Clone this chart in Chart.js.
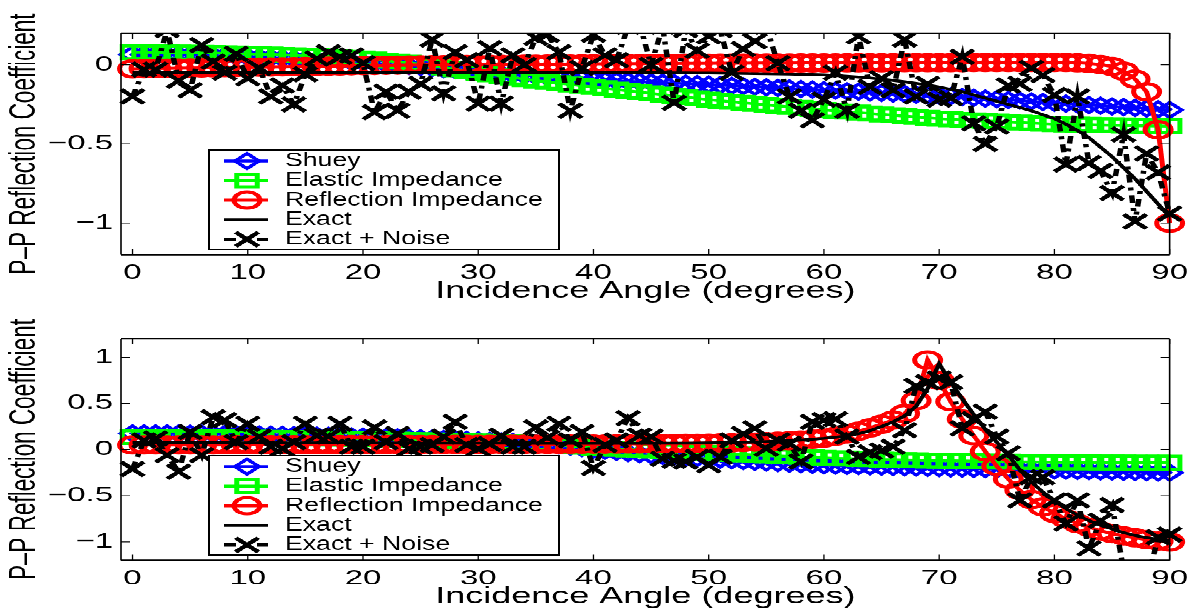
<!DOCTYPE html>
<html>
<head>
<meta charset="utf-8">
<script src="https://cdn.jsdelivr.net/npm/chart.js@4/dist/chart.umd.min.js"></script>
<style>
  html, body { margin: 0; padding: 0; background: #fff; overflow: hidden; }
  /* the reference is stretched sideways, so draw tall and squash vertically */
  #stage { position: absolute; left: 0; top: 0; width: 1198px; height: 979px; transform: scaleY(0.625); transform-origin: 0 0; }
  #stage canvas { position: absolute; left: 0; }
</style>
</head>
<body>
<div id="stage">
  <canvas id="chartTop" width="1198" height="490" style="top:0px"></canvas>
  <canvas id="chartBottom" width="1198" height="490" style="top:489px"></canvas>
</div>
<script>
// ---- data ----
const ANGLES = [0,1,2,3,4,5,6,7,8,9,10,11,12,13,14,15,16,17,18,19,20,21,22,23,24,25,26,27,28,29,30,
  31,32,33,34,35,36,37,38,39,40,41,42,43,44,45,46,47,48,49,50,51,52,53,54,55,56,57,58,59,60,
  61,62,63,64,65,66,67,68,69,70,71,72,73,74,75,76,77,78,79,80,81,82,83,84,85,86,87,88,89,90];

const SERIES_NAMES = ['Shuey', 'Elastic Impedance', 'Reflection Impedance', 'Exact', 'Exact + Noise'];

const X_TICKS = [0, 10, 20, 30, 40, 50, 60, 70, 80, 90];
const X_TICK_LABELS = ['0', '10', '20', '30', '40', '50', '60', '70', '80', '90'];
const TOP_Y_TICKS = [-1, -0.5, 0];
const TOP_Y_LABELS = ['\u22121', '\u22120.5', '0'];
const BOT_Y_TICKS = [-1, -0.5, 0, 0.5, 1];
const BOT_Y_LABELS = ['\u22121', '\u22120.5', '0', '0.5', '1'];

// top panel
const TOP_SHUEY = [0.065,0.065,0.064,0.063,0.062,0.061,0.059,0.057,0.055,0.053,0.050,
  0.047,0.044,0.041,0.038,0.034,0.031,0.027,0.023,0.019,0.015,
  0.010,0.004,-0.002,-0.008,-0.014,-0.020,-0.027,-0.033,-0.039,-0.045,
  -0.050,-0.056,-0.061,-0.066,-0.071,-0.076,-0.081,-0.086,-0.090,-0.095,
  -0.098,-0.101,-0.104,-0.107,-0.110,-0.113,-0.116,-0.119,-0.122,-0.125,
  -0.128,-0.132,-0.135,-0.139,-0.142,-0.146,-0.149,-0.153,-0.156,-0.160,
  -0.163,-0.167,-0.170,-0.174,-0.177,-0.181,-0.184,-0.188,-0.191,-0.195,
  -0.199,-0.204,-0.208,-0.213,-0.217,-0.222,-0.226,-0.231,-0.235,-0.240,
  -0.245,-0.249,-0.254,-0.258,-0.263,-0.267,-0.272,-0.276,-0.281,-0.285];
const TOP_EI = [0.080,0.080,0.079,0.079,0.078,0.077,0.076,0.075,0.073,0.072,0.070,
  0.068,0.066,0.063,0.061,0.058,0.055,0.052,0.048,0.044,0.040,
  0.034,0.027,0.020,0.013,0.005,-0.006,-0.017,-0.028,-0.039,-0.050,
  -0.060,-0.070,-0.080,-0.090,-0.100,-0.108,-0.116,-0.124,-0.132,-0.140,
  -0.148,-0.156,-0.164,-0.172,-0.180,-0.188,-0.196,-0.204,-0.212,-0.220,
  -0.227,-0.233,-0.240,-0.246,-0.253,-0.259,-0.266,-0.272,-0.279,-0.285,
  -0.291,-0.296,-0.302,-0.307,-0.313,-0.318,-0.324,-0.329,-0.335,-0.340,
  -0.344,-0.348,-0.351,-0.355,-0.358,-0.361,-0.365,-0.368,-0.372,-0.375,
  -0.377,-0.378,-0.379,-0.381,-0.382,-0.383,-0.384,-0.385,-0.386,-0.387];
const TOP_RI = [-0.025,-0.024,-0.023,-0.022,-0.021,-0.020,-0.019,-0.018,-0.017,-0.016,-0.015,
  -0.014,-0.013,-0.012,-0.011,-0.010,-0.009,-0.008,-0.007,-0.006,-0.005,
  -0.004,-0.003,-0.002,-0.001,0.000,0.001,0.001,0.002,0.002,0.003,
  0.003,0.003,0.004,0.004,0.004,0.005,0.005,0.005,0.006,0.006,
  0.006,0.007,0.007,0.007,0.008,0.008,0.008,0.009,0.009,0.009,
  0.010,0.010,0.010,0.011,0.011,0.011,0.011,0.012,0.012,0.012,
  0.012,0.013,0.013,0.013,0.013,0.013,0.014,0.014,0.014,0.014,
  0.014,0.014,0.015,0.015,0.015,0.015,0.015,0.015,0.015,0.015,
  0.015,0.013,0.009,0.002,-0.010,-0.040,-0.090,-0.170,-0.410,-1.000];
const TOP_EXACT = [-0.048,-0.048,-0.048,-0.048,-0.048,-0.048,-0.048,-0.048,-0.048,-0.048,-0.048,
  -0.049,-0.049,-0.049,-0.049,-0.049,-0.049,-0.049,-0.049,-0.049,-0.049,
  -0.049,-0.049,-0.049,-0.049,-0.049,-0.050,-0.050,-0.050,-0.050,-0.050,
  -0.050,-0.050,-0.050,-0.050,-0.050,-0.050,-0.050,-0.050,-0.050,-0.050,
  -0.050,-0.050,-0.050,-0.050,-0.050,-0.050,-0.051,-0.051,-0.052,-0.052,
  -0.053,-0.054,-0.055,-0.056,-0.057,-0.058,-0.059,-0.061,-0.062,-0.064,
  -0.068,-0.072,-0.077,-0.083,-0.090,-0.098,-0.107,-0.117,-0.128,-0.140,
  -0.155,-0.170,-0.190,-0.210,-0.230,-0.250,-0.270,-0.290,-0.315,-0.340,
  -0.375,-0.415,-0.460,-0.520,-0.580,-0.650,-0.720,-0.800,-0.880,-0.960];
const TOP_NOISE = [-0.20,-0.03,-0.03,0.22,-0.10,-0.16,0.125,0.02,-0.05,0.07,-0.085,
  -0.02,-0.20,-0.13,-0.25,-0.06,0.04,0.08,0.05,0.06,0.01,
  -0.30,-0.17,-0.29,-0.17,-0.12,0.16,-0.18,0.08,0.03,-0.245,
  0.105,-0.245,0.06,0.00,0.17,0.19,0.08,-0.29,-0.02,0.19,
  0.06,0.03,0.24,0.26,0.00,0.24,-0.24,0.22,0.09,0.18,
  0.22,-0.05,0.10,0.15,0.24,0.01,-0.20,-0.29,-0.35,-0.22,
  -0.05,-0.29,0.18,-0.14,-0.085,-0.16,0.16,-0.20,-0.12,-0.22,
  -0.21,0.05,-0.37,-0.50,-0.39,-0.13,-0.12,-0.02,-0.065,-0.19,
  -0.63,-0.20,-0.62,-0.67,-0.81,-0.44,-0.99,-0.56,-0.68,-0.94];

// bottom panel
const BOT_SHUEY = [0.175,0.175,0.174,0.174,0.173,0.172,0.171,0.170,0.168,0.167,0.165,
  0.163,0.161,0.159,0.157,0.154,0.151,0.149,0.146,0.143,0.140,
  0.137,0.133,0.130,0.126,0.122,0.118,0.114,0.109,0.105,0.100,
  0.095,0.089,0.083,0.077,0.070,0.058,0.045,0.031,0.016,0.000,
  -0.013,-0.025,-0.037,-0.049,-0.060,-0.068,-0.076,-0.084,-0.092,-0.100,
  -0.108,-0.116,-0.124,-0.132,-0.140,-0.146,-0.152,-0.158,-0.164,-0.170,
  -0.173,-0.176,-0.179,-0.182,-0.185,-0.188,-0.191,-0.194,-0.197,-0.200,
  -0.203,-0.205,-0.208,-0.210,-0.213,-0.215,-0.218,-0.220,-0.223,-0.225,
  -0.228,-0.230,-0.233,-0.235,-0.238,-0.240,-0.243,-0.245,-0.248,-0.250];
const BOT_EI = [0.135,0.135,0.134,0.134,0.133,0.133,0.132,0.132,0.131,0.131,0.130,
  0.129,0.127,0.126,0.124,0.123,0.121,0.120,0.118,0.117,0.115,
  0.113,0.110,0.108,0.105,0.103,0.100,0.098,0.095,0.093,0.090,
  0.086,0.082,0.078,0.074,0.070,0.060,0.050,0.040,0.030,0.020,
  0.014,0.008,0.002,-0.004,-0.010,-0.015,-0.020,-0.025,-0.030,-0.035,
  -0.041,-0.047,-0.053,-0.059,-0.065,-0.070,-0.075,-0.080,-0.085,-0.090,
  -0.094,-0.097,-0.101,-0.104,-0.108,-0.110,-0.113,-0.115,-0.118,-0.120,
  -0.122,-0.124,-0.126,-0.128,-0.130,-0.131,-0.133,-0.134,-0.136,-0.137,
  -0.138,-0.139,-0.139,-0.140,-0.141,-0.141,-0.142,-0.142,-0.143,-0.143];
const BOT_RI = [0.050,0.050,0.050,0.050,0.051,0.051,0.051,0.051,0.052,0.052,0.052,
  0.052,0.052,0.053,0.053,0.053,0.053,0.053,0.054,0.054,0.054,
  0.054,0.054,0.055,0.055,0.055,0.055,0.055,0.056,0.056,0.056,
  0.056,0.057,0.057,0.057,0.058,0.058,0.058,0.059,0.059,0.060,
  0.060,0.061,0.062,0.063,0.064,0.065,0.066,0.067,0.068,0.070,
  0.072,0.075,0.078,0.082,0.086,0.091,0.097,0.104,0.113,0.125,
  0.145,0.170,0.200,0.235,0.275,0.320,0.390,0.530,0.970,0.750,
  0.520,0.330,0.150,-0.020,-0.180,-0.320,-0.440,-0.540,-0.620,-0.690,
  -0.750,-0.800,-0.840,-0.880,-0.910,-0.935,-0.955,-0.975,-0.990,-1.000];
const BOT_EXACT = [0.075,0.075,0.075,0.075,0.075,0.074,0.074,0.074,0.074,0.074,0.073,
  0.073,0.073,0.073,0.073,0.072,0.072,0.072,0.072,0.072,0.071,
  0.071,0.071,0.071,0.071,0.070,0.070,0.070,0.070,0.070,0.070,
  0.069,0.069,0.069,0.069,0.068,0.068,0.068,0.068,0.068,0.068,
  0.068,0.068,0.068,0.068,0.068,0.069,0.069,0.070,0.071,0.072,
  0.074,0.076,0.079,0.082,0.086,0.091,0.097,0.104,0.112,0.122,
  0.134,0.150,0.172,0.205,0.250,0.300,0.365,0.470,0.660,0.930,
  0.730,0.550,0.380,0.220,0.080,-0.060,-0.220,-0.350,-0.460,-0.550,
  -0.640,-0.710,-0.770,-0.820,-0.860,-0.900,-0.930,-0.955,-0.970,-0.980];
const BOT_NOISE = [-0.21,0.10,0.12,-0.06,-0.24,0.19,-0.06,0.35,0.32,0.08,0.28,
  0.14,0.03,0.01,0.08,0.28,0.15,0.14,0.28,0.03,0.03,
  0.24,0.08,0.17,0.01,0.03,0.05,0.14,0.30,0.05,0.01,
  0.06,0.15,0.03,0.03,0.24,0.13,0.28,0.10,0.19,-0.20,
  0.05,0.10,0.34,0.15,0.14,-0.10,-0.12,-0.13,-0.08,-0.17,
  -0.08,0.10,0.17,0.23,0.01,0.10,0.065,-0.13,0.30,0.32,
  0.33,0.14,-0.08,-0.03,-0.01,0.03,0.21,0.69,0.73,0.77,
  0.73,0.23,0.33,0.41,0.14,-0.04,-0.55,-0.30,-0.30,-0.55,
  -0.80,-0.55,-1.07,-0.77,-0.60,-1.30,-1.50,-1.45,-0.95,-0.92];

// ---- looks (internal pixels; the page is squashed to 0.625 vertically) ----
const FONT = '"Liberation Sans", Arial, Helvetica, sans-serif';
const STYLES = [
  { color: '#0000ff', pointStyle: 'rectRot', radius: 12, pointWidth: 4.5, lineWidth: 4.5, order: 5 },
  { color: '#00ff00', pointStyle: 'rect', radius: 14.5, pointWidth: 5, lineWidth: 4.5, order: 4 },
  { color: '#ff0000', pointStyle: 'circle', radius: 13, pointWidth: 5, lineWidth: 5, order: 3 },
  { color: '#000000', pointStyle: 'circle', radius: 0, pointWidth: 0, lineWidth: 4.5, order: 2 },
  { color: '#000000', pointStyle: 'crossRot', radius: 16, pointWidth: 5.5, lineWidth: 5.5, dash: [12, 8, 5, 8], order: 1 }
];
const AREA = { top: 53, bottom: 407.5, left: 121, right: 1173 };
const LEG = { x: 209, y: 240, w: 350, h: 159, first: 17.5, step: 31.3, lineFrom: 224, lineTo: 268, mark: 247, text: 285 };

const framePlugin = {
  id: 'frame',
  afterDatasetsDraw(chart) {
    const { ctx, chartArea: a, scales } = chart;
    ctx.save();
    ctx.strokeStyle = '#000';
    ctx.setLineDash([]);
    ctx.lineWidth = 1.3;
    ctx.beginPath();
    scales.x.ticks.forEach(t => {
      const px = scales.x.getPixelForValue(t.value);
      ctx.moveTo(px, a.bottom); ctx.lineTo(px, a.bottom - 9);
      ctx.moveTo(px, a.top); ctx.lineTo(px, a.top + 9);
    });
    scales.y.ticks.forEach(t => {
      const py = scales.y.getPixelForValue(t.value);
      ctx.moveTo(a.left, py); ctx.lineTo(a.left + 9, py);
      ctx.moveTo(a.right, py); ctx.lineTo(a.right - 9, py);
    });
    ctx.stroke();
    ctx.lineWidth = 2.4;
    ctx.beginPath();
    ctx.moveTo(a.left, a.top); ctx.lineTo(a.right, a.top);
    ctx.moveTo(a.left, a.bottom); ctx.lineTo(a.right, a.bottom);
    ctx.stroke();
    ctx.lineWidth = 1.6;
    ctx.beginPath();
    ctx.moveTo(a.left, a.top); ctx.lineTo(a.left, a.bottom);
    ctx.moveTo(a.right, a.top); ctx.lineTo(a.right, a.bottom);
    ctx.stroke();
    ctx.restore();
  }
};

const legendPlugin = {
  id: 'boxLegend',
  afterDatasetsDraw(chart) {
    const ctx = chart.ctx;
    ctx.save();
    ctx.fillStyle = '#fff';
    ctx.fillRect(LEG.x, LEG.y, LEG.w, LEG.h);
    ctx.strokeStyle = '#000';
    ctx.lineWidth = 2;
    ctx.strokeRect(LEG.x, LEG.y, LEG.w, LEG.h);
    chart.data.datasets.forEach((ds, i) => {
      const y = LEG.y + LEG.first + i * LEG.step;
      ctx.strokeStyle = ds.borderColor;
      ctx.lineWidth = ds.borderWidth;
      ctx.setLineDash(ds.borderDash || []);
      ctx.beginPath();
      ctx.moveTo(LEG.lineFrom, y);
      ctx.lineTo(LEG.lineTo, y);
      ctx.stroke();
      ctx.setLineDash([]);
      if (ds.pointRadius > 0) {
        ctx.lineWidth = ds.pointBorderWidth;
        ctx.fillStyle = 'rgba(0,0,0,0)';
        Chart.helpers.drawPoint(ctx, {
          pointStyle: ds.pointStyle, radius: ds.pointRadius, rotation: 0, borderWidth: ds.pointBorderWidth
        }, LEG.mark, y);
      }
      // legend lettering is a bit narrower than the stretched axis text
      ctx.save();
      ctx.translate(LEG.text, y);
      ctx.scale(0.86, 1);
      ctx.fillStyle = '#000';
      ctx.font = '31px ' + FONT;
      ctx.textBaseline = 'middle';
      ctx.textAlign = 'left';
      ctx.fillText(ds.label, 0, 0);
      ctx.restore();
    });
    ctx.restore();
  }
};

function makeChart(canvasId, seriesList, yMin, yMax, yTicks, yLabels) {
  const datasets = seriesList.map((values, i) => {
    const st = STYLES[i];
    return {
      label: SERIES_NAMES[i],
      data: ANGLES.map((a, k) => ({ x: a, y: values[k] })),
      borderColor: st.color,
      borderWidth: st.lineWidth,
      borderDash: st.dash || [],
      pointStyle: st.pointStyle,
      pointRadius: st.radius,
      pointBorderWidth: st.pointWidth,
      pointBorderColor: st.color,
      pointBackgroundColor: 'rgba(0,0,0,0)',
      tension: 0,
      fill: false,
      order: st.order,
      clip: { left: 30, right: 30, top: 0, bottom: 0 }
    };
  });

  return new Chart(document.getElementById(canvasId), {
    type: 'line',
    data: { datasets },
    options: {
      responsive: false,
      animation: false,
      devicePixelRatio: 1,
      events: [],
      layout: { padding: { top: AREA.top, right: 1198 - AREA.right, left: 0, bottom: 0 } },
      plugins: { legend: { display: false }, tooltip: { enabled: false } },
      scales: {
        x: {
          type: 'linear',
          min: -1,
          max: 90,
          grid: { display: false, drawTicks: false },
          border: { display: false },
          afterBuildTicks: scale => { scale.ticks = X_TICKS.map(v => ({ value: v })); },
          afterFit: scale => { scale.height = 490 - AREA.bottom; },
          ticks: {
            color: '#000',
            padding: 10,
            maxRotation: 0,
            autoSkip: false,
            font: { family: FONT, size: 33 },
            callback: (value, index) => X_TICK_LABELS[index]
          },
          title: {
            display: true,
            text: 'Incidence Angle (degrees)',
            color: '#000',
            font: { family: FONT, size: 36 },
            padding: { top: 0, bottom: 2 }
          }
        },
        y: {
          type: 'linear',
          min: yMin,
          max: yMax,
          grid: { display: false, drawTicks: false },
          border: { display: false },
          afterBuildTicks: scale => { scale.ticks = yTicks.map(v => ({ value: v })); },
          afterFit: scale => { scale.width = AREA.left; },
          ticks: {
            color: '#000',
            padding: 8,
            autoSkip: false,
            font: { family: FONT, size: 33 },
            callback: (value, index) => yLabels[index]
          },
          title: {
            display: true,
            text: 'P\u2013P Reflection Coefficient',
            color: '#000',
            font: { family: FONT, size: 36 },
            padding: { top: 3, bottom: 0 }
          }
        }
      }
    },
    plugins: [framePlugin, legendPlugin]
  });
}

makeChart('chartTop', [TOP_SHUEY, TOP_EI, TOP_RI, TOP_EXACT, TOP_NOISE], -1.2, 0.2, TOP_Y_TICKS, TOP_Y_LABELS);
makeChart('chartBottom', [BOT_SHUEY, BOT_EI, BOT_RI, BOT_EXACT, BOT_NOISE], -1.2, 1.2, BOT_Y_TICKS, BOT_Y_LABELS);
</script>
</body>
</html>
